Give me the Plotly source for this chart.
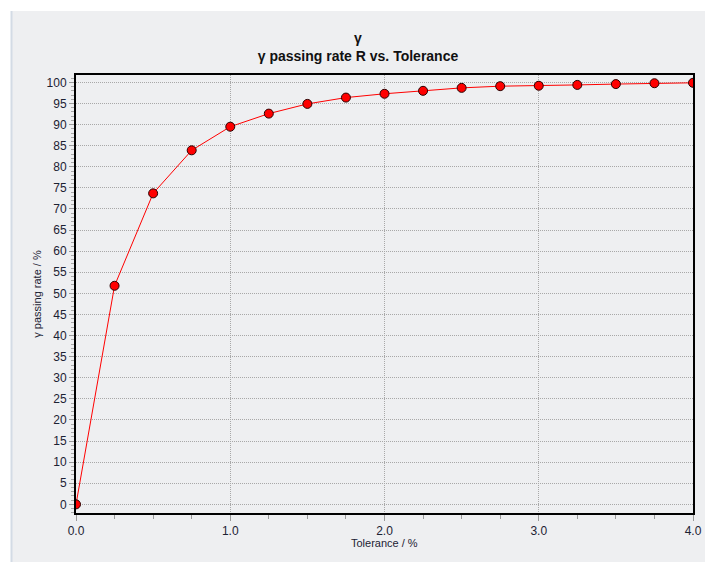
import plotly.graph_objects as go

tolerance = [0.0, 0.25, 0.5, 0.75, 1.0, 1.25, 1.5, 1.75, 2.0, 2.25, 2.5, 2.75, 3.0, 3.25, 3.5, 3.75, 4.0]
passing_rate = [0.0, 51.8, 73.7, 83.9, 89.5, 92.6, 94.9, 96.4, 97.3, 98.0, 98.7, 99.1, 99.2, 99.4, 99.6, 99.8, 99.9]
x_ticks = [0, 1, 2, 3, 4]
x_tick_labels = ["0.0", "1.0", "2.0", "3.0", "4.0"]
y_ticks = list(range(0, 101, 5))

W, H = 705, 562
L, R, T, B = 76, 12, 75, 49
pw, ph = W - L - R, H - T - B
panel = "#eeeff1"
txt = "#1c2233"

def px(xp):
    return (xp - L) / pw

def py(yp):
    return (H - B - yp) / ph

fig = go.Figure()
fig.add_trace(go.Scatter(
    x=tolerance, y=passing_rate, mode="lines+markers",
    line=dict(color="#ff0000", width=1),
    marker=dict(size=9, color="#ff0000", line=dict(color="#2a0000", width=1)),
    showlegend=False,
))

fig.update_layout(
    width=W, height=H,
    margin=dict(l=L, r=R, t=T, b=B, pad=0),
    paper_bgcolor="white", plot_bgcolor=panel,
    font=dict(family="Liberation Sans, Arial, sans-serif", color=txt),
    title=dict(
        text="<b>γ<br>γ passing rate R vs. Tolerance</b>",
        x=358 / W, xanchor="center", xref="container",
        y=1 - 43 / H, yanchor="top", yref="container",
        font=dict(size=14, color="#111111"),
    ),
    shapes=[
        dict(type="rect", xref="paper", yref="paper", x0=px(11), x1=px(706), y0=py(11), y1=py(563),
             fillcolor=panel, line=dict(width=0), layer="below"),
        dict(type="line", xref="paper", yref="paper", x0=px(11.5), x1=px(11.5), y0=py(11), y1=py(563),
             line=dict(color="#d3dbe5", width=2), layer="below"),
    ],
    annotations=[
        dict(text="Tolerance / %", xref="paper", yref="paper", x=0.5, y=py(543),
             xanchor="center", yanchor="middle", showarrow=False,
             font=dict(size=11, color=txt)),
    ],
)

fig.update_xaxes(
    range=[0, 4], tickvals=x_ticks, ticktext=x_tick_labels,
    ticks="outside", ticklen=6, tickcolor="#9a9a9a", tickwidth=1,
    minor=dict(dtick=0.25, ticks="outside", ticklen=4, tickcolor="#9a9a9a", showgrid=False),
    showgrid=True, gridcolor="#a8a8a8", griddash="1px,1px", gridwidth=1,
    showline=True, linecolor="black", linewidth=2, mirror=True,
    zeroline=False, tickfont=dict(size=12, color=txt),
    automargin=False,
)
fig.update_yaxes(
    range=[-2.05, 101.75], tickvals=y_ticks,
    ticks="outside", ticklen=5, tickcolor="#9a9a9a", tickwidth=1,
    minor=dict(dtick=1, ticks="outside", ticklen=3, tickcolor="#a8a8a8", showgrid=False),
    showgrid=True, gridcolor="#a8a8a8", griddash="1px,1px", gridwidth=1,
    showline=True, linecolor="black", linewidth=2, mirror=True,
    zeroline=False, tickfont=dict(size=12, color=txt),
    title=dict(text="γ passing rate / %", font=dict(size=11, color=txt), standoff=3),
    automargin=False,
)

fig.write_html("out.html")
